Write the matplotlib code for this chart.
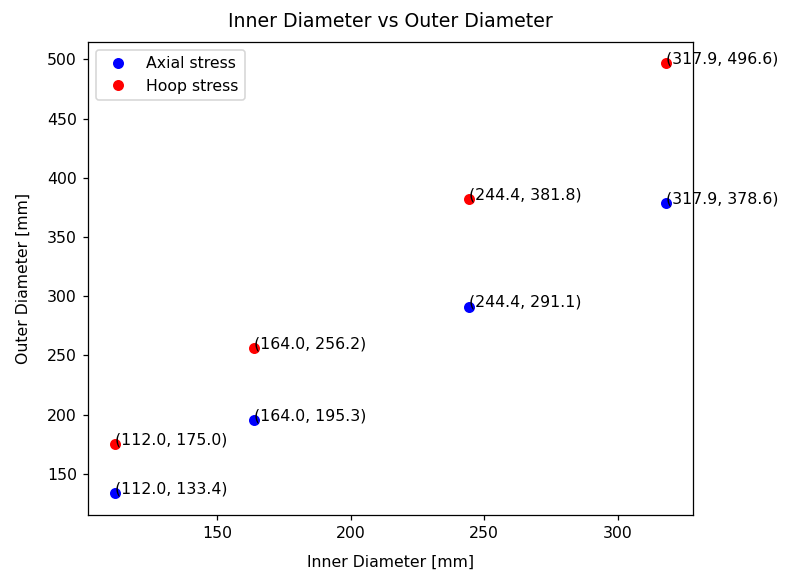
import matplotlib
matplotlib.use('Agg')
import matplotlib.pyplot as plt

inner_d = [112.0, 164.0, 244.4, 317.9]
outer_axial = [133.4, 195.3, 291.1, 378.6]
outer_hoop = [175.0, 256.2, 381.8, 496.6]

dpi = 113
fig = plt.figure(figsize=(794 / dpi, 571 / dpi), dpi=dpi)
ax = fig.add_axes([0.1108, 0.0981, 0.762, 0.8284])

ax.plot(inner_d, outer_axial, 'bo', label='Axial stress')
ax.plot(inner_d, outer_hoop, 'ro', label='Hoop stress')

# label every point with its coordinates
for x, y in zip(inner_d, outer_axial):
    ax.text(x, y, f'({x}, {y})')
for x, y in zip(inner_d, outer_hoop):
    ax.text(x, y, f'({x}, {y})')

ax.set_xlabel('Inner Diameter [mm]', labelpad=8.5)
ax.set_ylabel('Outer Diameter [mm]', labelpad=10)
ax.set_title('Inner Diameter vs Outer Diameter', pad=9.5)
ax.legend(loc='upper left')

plt.savefig('out.png', dpi=dpi)
plt.close()
